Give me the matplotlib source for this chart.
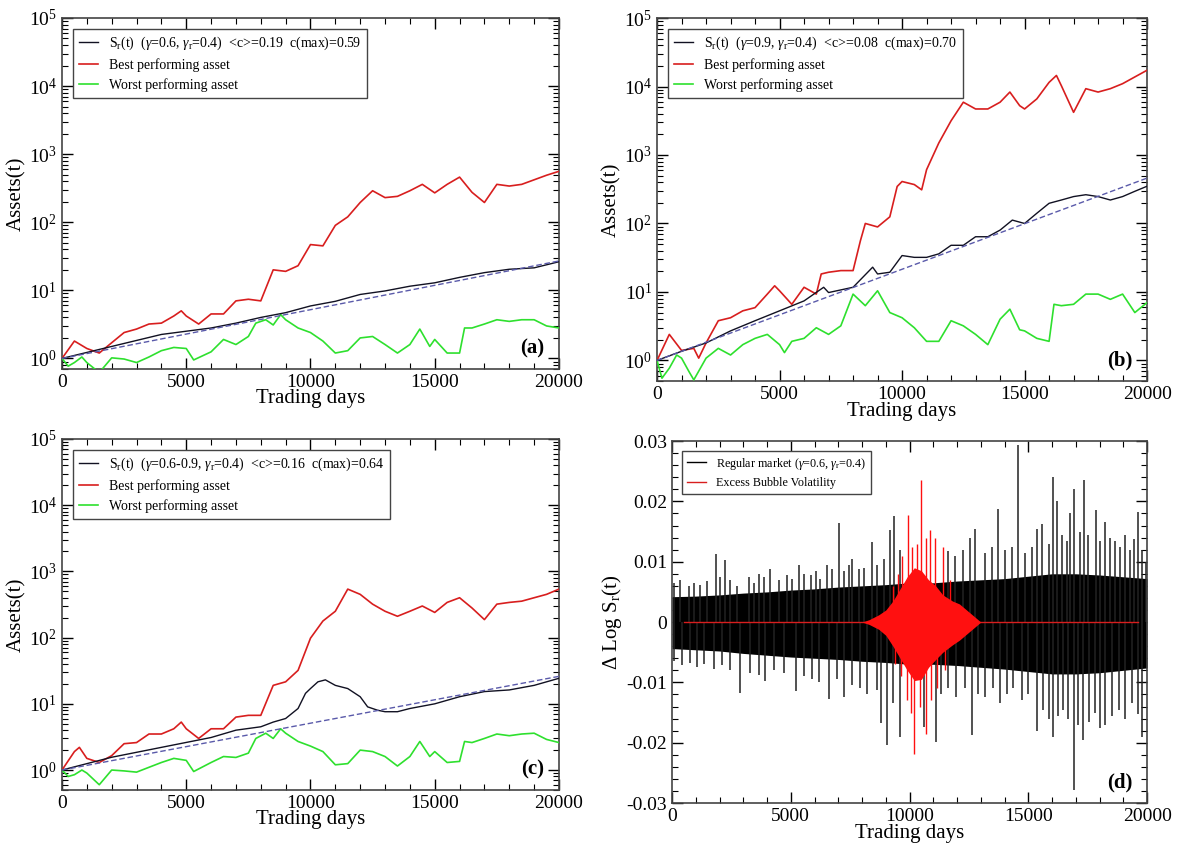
import matplotlib.pyplot as plt
from matplotlib.ticker import MultipleLocator, LogLocator, NullFormatter, FuncFormatter

plt.rcParams['font.family'] = 'Liberation Serif'
plt.rcParams['mathtext.fontset'] = 'custom'
plt.rcParams['mathtext.rm'] = 'Liberation Serif'
plt.rcParams['mathtext.it'] = 'Liberation Serif:italic'
plt.rcParams['mathtext.bf'] = 'Liberation Serif:bold'

RED = '#d81e1e'
GREEN = '#2ee02e'
FIT = '#5a5aaa'

# ---- panel (a) ----
days_red_a = [0, 500, 1000, 1500, 2000, 2500, 3000, 3500, 4000, 4500, 4800, 5000, 5500, 6000, 6500,
              7000, 7500, 8000, 8500, 9000, 9500, 10000, 10500, 11000, 11500, 12000, 12500, 13000,
              13500, 14000, 14500, 15000, 15500, 16000, 16500, 17000, 17500, 18000, 18500, 19000,
              19500, 20000]
red_a = [1.0, 1.8, 1.4, 1.2, 1.7, 2.4, 2.7, 3.2, 3.3, 4.2, 5.0, 4.2, 3.2, 4.5, 4.5,
         7.0, 7.4, 7.0, 20, 19, 23, 47, 45, 90, 120, 195, 290, 230,
         240, 290, 360, 270, 360, 460, 275, 195, 360, 340, 360, 420,
         490, 560]
days_black_a = [0, 2000, 4000, 6000, 7000, 8000, 9000, 10000, 11000, 12000, 13000, 14000, 15000,
                16000, 17000, 18000, 19000, 20000]
black_a = [1.0, 1.5, 2.25, 2.8, 3.3, 4.0, 4.7, 5.9, 6.9, 8.7, 9.8, 11.5, 12.9,
           15.5, 18.2, 20.4, 21.4, 26.3]
days_green_a = [0, 250, 500, 800, 1000, 1500, 2000, 2500, 3000, 3500, 4000, 4500, 5000, 5300, 6000,
                6500, 7000, 7500, 7800, 8200, 8500, 8800, 9000, 9500, 10000, 10500, 11000, 11500,
                12000, 12500, 13000, 13500, 14000, 14400, 14800, 15000, 15500, 16000, 16200, 16500,
                17000, 17500, 18000, 18500, 19000, 19500, 20000]
green_a = [1.0, 0.77, 0.87, 1.05, 0.87, 0.62, 1.02, 0.98, 0.87, 1.05, 1.3, 1.45, 1.4, 0.95, 1.25,
           1.9, 1.6, 2.1, 3.3, 3.7, 3.1, 4.4, 3.7, 2.8, 2.4, 1.8, 1.2, 1.3,
           2.0, 2.1, 1.6, 1.2, 1.6, 2.7, 1.5, 1.9, 1.2, 1.2, 2.8, 2.8,
           3.2, 3.7, 3.5, 3.7, 3.7, 3.0, 2.8]
fit_days = [0, 20000]
fit_a = [1.0, 27.0]

# ---- panel (b) ----
days_red_b = [0, 500, 1000, 1500, 1700, 2000, 2500, 3000, 3500, 4000, 4500, 4800, 5000, 5500, 6000,
              6500, 6700, 7000, 7500, 8000, 8300, 8500, 9000, 9500, 9800, 10000, 10500, 10800,
              11000, 11500, 12000, 12500, 13000, 13500, 14000, 14400, 14800, 15000, 15500, 16000,
              16300, 16500, 17000, 17500, 18000, 18500, 19000, 19500, 20000]
red_b = [1.0, 2.4, 1.4, 1.5, 1.08, 1.8, 3.8, 4.2, 5.3, 5.9, 9.3, 12.3, 10.4, 6.6, 11.7,
         9.3, 18.3, 19.4, 20.5, 20.5, 56, 100, 89, 125, 347, 410, 370, 310,
         610, 1500, 3160, 5900, 4700, 4700, 5900, 8300, 5250, 4700, 6600, 11500,
         14500, 10300, 4200, 9300, 8300, 9300, 11000, 13800, 17300]
days_black_b = [0, 1000, 2000, 3000, 4000, 5000, 6000, 6800, 7000, 8000, 8800, 9000, 9500, 10000,
                10500, 11000, 11500, 12000, 12500, 13000, 13500, 14000, 14500, 15000, 15500, 16000,
                16500, 17000, 17500, 18000, 18500, 19000, 19500, 20000]
black_b = [1.0, 1.36, 1.8, 2.7, 3.8, 5.3, 7.4, 11.7, 9.8, 11.7, 23, 18.3, 19.4, 34,
           32, 32, 36, 48, 48, 64, 64, 80, 112, 100, 141, 197,
           220, 247, 263, 247, 220, 247, 295, 350]
days_green_b = [0, 200, 500, 800, 1000, 1300, 1500, 2000, 2500, 3000, 3500, 4000, 4500, 5000, 5200,
                5500, 6000, 6500, 7000, 7500, 8000, 8500, 9000, 9500, 10000, 10500, 11000, 11500,
                12000, 12500, 13000, 13500, 14000, 14400, 14800, 15000, 15500, 16000, 16200, 16500,
                17000, 17500, 18000, 18500, 19000, 19500, 20000]
green_b = [1.0, 0.55, 0.77, 1.2, 1.08, 0.69, 0.52, 1.08, 1.5, 1.2, 1.7, 2.1, 2.4, 1.7, 1.3,
           1.9, 2.1, 3.0, 2.4, 3.2, 9.3, 6.3, 10.4, 5.0, 4.2, 3.0, 1.9, 1.9,
           3.8, 3.2, 2.4, 1.7, 4.0, 5.6, 2.8, 2.7, 2.1, 1.9, 6.6, 6.3,
           6.6, 9.3, 9.3, 7.8, 9.3, 5.0, 7.0]
fit_b = [1.0, 460.0]

# ---- panel (c) ----
days_red_c = [0, 500, 700, 1000, 1500, 2000, 2500, 3000, 3500, 4000, 4500, 4800, 5000, 5500, 6000,
              6500, 7000, 7500, 8000, 8500, 9000, 9500, 10000, 10500, 11000, 11500, 12000, 12500,
              13000, 13500, 14000, 14500, 15000, 15500, 16000, 16500, 17000, 17500, 18000, 18500,
              19000, 19500, 20000]
red_c = [1.0, 1.9, 2.2, 1.5, 1.3, 1.65, 2.5, 2.6, 3.5, 3.5, 4.2, 5.3, 4.2, 3.0, 4.2,
         4.2, 6.3, 6.7, 6.7, 19, 21.5, 32, 98, 178, 250, 540, 450, 320,
         250, 210, 250, 300, 240, 340, 400, 280, 187, 320, 340, 355,
         400, 450, 540]
days_black_c = [0, 2000, 4000, 6000, 7000, 8000, 8500, 9000, 9500, 9800, 10000, 10300, 10600, 11000,
                11500, 12000, 12300, 12700, 13000, 13500, 14000, 15000, 16000, 17000, 18000, 19000,
                20000]
black_c = [1.0, 1.56, 2.2, 3.1, 4.0, 4.5, 5.3, 6.0, 8.5, 14.4, 17, 21.5, 23, 19,
           17, 12.8, 9.0, 8.0, 7.6, 7.6, 8.5, 10, 12.8, 15.3, 16.2, 19,
           24.3]
days_green_c = [0, 250, 500, 800, 1000, 1500, 2000, 2500, 3000, 3500, 4000, 4500, 5000, 5300, 6000,
                6500, 7000, 7500, 7800, 8200, 8500, 8800, 9000, 9500, 10000, 10500, 11000, 11500,
                12000, 12500, 13000, 13500, 14000, 14400, 14800, 15000, 15500, 16000, 16200, 16500,
                17000, 17500, 18000, 18500, 19000, 19500, 20000]
green_c = [1.0, 0.8, 0.85, 1.0, 0.9, 0.6, 1.0, 0.97, 0.93, 1.1, 1.3, 1.5, 1.4, 0.95, 1.3,
           1.6, 1.55, 1.8, 3.0, 3.6, 3.0, 4.2, 3.6, 2.7, 2.3, 1.9, 1.2, 1.25,
           2.0, 1.9, 1.6, 1.15, 1.6, 2.7, 1.6, 1.9, 1.3, 1.35, 2.7, 2.6,
           3.0, 3.5, 3.3, 3.5, 3.6, 2.9, 2.6]
fit_c = [1.0, 26.0]

# ---- panel (d) ----
days_core_d = [0, 1000, 2000, 3000, 4000, 5000, 6000, 7000, 8000, 9000, 10000, 11000, 12000, 13000,
               14000, 15000, 16000, 17000, 18000, 19000, 20000]
core_hi_d = [0.0042, 0.0043, 0.0045, 0.0048, 0.0050, 0.0053, 0.0055, 0.0058, 0.0060, 0.0062, 0.0065,
             0.0065, 0.0068, 0.0070, 0.0072, 0.0076, 0.0080, 0.0080, 0.0078, 0.0075, 0.0072]
core_lo_d = [-0.0044, -0.0046, -0.0048, -0.0052, -0.0055, -0.0058, -0.0060, -0.0062, -0.0065, -0.0067,
             -0.0070, -0.0070, -0.0072, -0.0075, -0.0078, -0.0082, -0.0086, -0.0086, -0.0084, -0.0080,
             -0.0076]
up_days_d = [70, 350, 700, 910, 1190, 1470, 1830, 2040, 2250, 2460, 2740, 3230, 3440, 3650, 3860, 4140,
             4490, 4840, 5050, 5340, 5550, 5830, 6040, 6250, 6530, 6740, 7020, 7230, 7440, 7580, 7860,
             8070, 8420, 8630, 8910, 9190, 9330, 9600, 11620, 11900, 12250, 12540, 12750, 13170,
             13450, 13730, 14010, 14300, 14580, 14860, 15140, 15350, 15560, 15850, 16030, 16200,
             16410, 16620, 16760, 16940, 17180, 17350, 17530, 17840, 18030, 18240, 18450, 18660,
             18870, 19080, 19290, 19430, 19600, 19800, 19950]
up_vals_d = [0.0065, 0.0070, 0.0060, 0.0065, 0.0062, 0.0068, 0.0113, 0.0075, 0.0103, 0.0070, 0.0060,
             0.0075, 0.0065, 0.0080, 0.0075, 0.0088, 0.0070, 0.0078, 0.0072, 0.0095, 0.0080, 0.0078,
             0.0085, 0.0072, 0.0095, 0.0088, 0.0164, 0.0085, 0.0095, 0.0105, 0.0088, 0.0090, 0.0133,
             0.0095, 0.0105, 0.0152, 0.0175, 0.0120, 0.0118, 0.0110, 0.0120, 0.0140, 0.0155, 0.0115,
             0.0125, 0.0188, 0.0120, 0.0125, 0.0294, 0.0115, 0.0125, 0.0155, 0.0163, 0.0130, 0.0240,
             0.0200, 0.0145, 0.0135, 0.0180, 0.0220, 0.0150, 0.0235, 0.0145, 0.0185, 0.0135, 0.0166,
             0.0140, 0.0135, 0.0125, 0.0145, 0.0120, 0.0138, 0.0182, 0.0120, 0.0100]
lo_days_d = [70, 420, 770, 1050, 1330, 1750, 2110, 2460, 2880, 3300, 3650, 3930, 4280, 4700, 5200,
             5550, 5900, 6180, 6600, 6950, 7230, 7580, 7930, 8210, 8630, 8800, 9050, 9300, 9600,
             10600, 11100, 11340, 11620, 11970, 12330, 12640, 12890, 13170, 13520, 13800, 14090,
             14370, 14720, 15000, 15350, 15630, 15850, 16060, 16270, 16480, 16690, 16940, 17110,
             17320, 17560, 17810, 18030, 18240, 18520, 18800, 19080, 19360, 19600, 19800]
lo_vals_d = [-0.0065, -0.0072, -0.0068, -0.0075, -0.0070, -0.0078, -0.0072, -0.0080, -0.0117, -0.0085,
             -0.0088, -0.0098, -0.0080, -0.0085, -0.0114, -0.0090, -0.0095, -0.0100, -0.0128, -0.0095,
             -0.0125, -0.0105, -0.0110, -0.0120, -0.0112, -0.0168, -0.0204, -0.0135, -0.0190,
             -0.0174, -0.0199, -0.0120, -0.0110, -0.0125, -0.0110, -0.0188, -0.0120, -0.0125, -0.0110,
             -0.0135, -0.0120, -0.0110, -0.0130, -0.0120, -0.0180, -0.0145, -0.0160, -0.0190, -0.0155,
             -0.0145, -0.0160, -0.0279, -0.0170, -0.0195, -0.0165, -0.0150, -0.0175, -0.0170, -0.0155,
             -0.0145, -0.0160, -0.0135, -0.0152, -0.0190]
bubble_days_d = [8000, 8300, 8700, 9000, 9300, 9600, 9900, 10200, 10500, 10800, 11100, 11400, 11800,
                 12100, 12400, 12700, 13000]
bubble_hi_d = [0, 0.0004, 0.0012, 0.0020, 0.0035, 0.0055, 0.0075, 0.0090, 0.0085, 0.0070, 0.0060,
               0.0045, 0.0035, 0.0030, 0.0020, 0.0010, 0]
bubble_lo_d = [0, -0.0004, -0.0012, -0.0022, -0.0040, -0.0060, -0.0080, -0.0097, -0.0095, -0.0075,
               -0.0062, -0.0050, -0.0038, -0.0030, -0.0020, -0.0010, 0]
bubble_spike_days = [9300, 9500, 9700, 9930, 10100, 10300, 10500, 10700, 10880, 11080, 11420, 11700,
                     9400, 9650, 9900, 10050, 10200, 10450, 10680, 10900, 11150, 11500]
bubble_spike_vals = [0.0060, 0.0080, 0.0110, 0.0177, 0.0125, 0.0130, 0.0235, 0.0140, 0.0152, 0.0140,
                     0.0124, 0.0070, -0.0070, -0.0090, -0.0130, -0.0150, -0.0218, -0.0140, -0.0185,
                     -0.0130, -0.0110, -0.0080]
zero_line_days = [500, 19600]

fig = plt.figure(figsize=(11.99, 8.43), dpi=100)
ax_a = fig.add_axes([0.0517, 0.5623, 0.4145, 0.4164])
ax_b = fig.add_axes([0.548, 0.548, 0.4087, 0.4306])
ax_c = fig.add_axes([0.0517, 0.0629, 0.4145, 0.4164])
ax_d = fig.add_axes([0.5605, 0.0474, 0.3962, 0.4294])


def style_axes(ax, letter):
    ax.set_xlim(0, 20000)
    ax.xaxis.set_major_locator(MultipleLocator(5000))
    ax.xaxis.set_minor_locator(MultipleLocator(1000))
    ax.tick_params(which='both', direction='in', top=True, right=True, labelsize=14)
    ax.tick_params(which='major', length=8, width=1)
    ax.tick_params(which='minor', length=4, width=0.8)
    ax.set_xlabel('Trading days', fontsize=15, labelpad=-1)
    for s in ax.spines.values():
        s.set_linewidth(1.2)
        s.set_color('#444444')
    ax.text(0.97, 0.03, letter, transform=ax.transAxes, ha='right', va='bottom',
            fontsize=15, fontweight='bold')


def asset_panel(ax, ymin, dr, r, db, b, dg, g, fit, label, letter):
    ax.plot(dr, r, color=RED, lw=1.2, label='Best performing asset', zorder=3)
    ax.plot(dg, g, color=GREEN, lw=1.2, label='Worst performing asset', zorder=3)
    ax.plot(db, b, color='#111122', lw=1.0, label=label, zorder=4)
    ax.plot(fit_days, fit, color=FIT, lw=1.0, ls=(0, (4, 2)), zorder=5)
    ax.set_yscale('log')
    ax.set_ylim(ymin, 1e5)
    ax.yaxis.set_major_locator(LogLocator(base=10, numticks=10))
    ax.yaxis.set_minor_locator(LogLocator(base=10, subs=range(2, 10), numticks=20))
    ax.yaxis.set_minor_formatter(NullFormatter())
    ax.set_ylabel('Assets(t)', fontsize=15, labelpad=2)
    style_axes(ax, letter)
    h, l = ax.get_legend_handles_labels()
    order = [2, 0, 1]
    leg = ax.legend([h[i] for i in order], [l[i] for i in order], loc='upper left', fontsize=10,
                    fancybox=False, edgecolor='#444444', handlelength=1.4, borderaxespad=0.8,
                    labelspacing=0.45, framealpha=1)
    leg.get_frame().set_linewidth(1.0)


asset_panel(ax_a, 0.7, days_red_a, red_a, days_black_a, black_a, days_green_a, green_a, fit_a,
            r'S$_\mathregular{r}$(t)  ($\gamma$=0.6, $\gamma_\mathregular{r}$=0.4)  <c>=0.19  c(max)=0.59', '(a)')
asset_panel(ax_b, 0.5, days_red_b, red_b, days_black_b, black_b, days_green_b, green_b, fit_b,
            r'S$_\mathregular{r}$(t)  ($\gamma$=0.9, $\gamma_\mathregular{r}$=0.4)  <c>=0.08  c(max)=0.70', '(b)')
asset_panel(ax_c, 0.5, days_red_c, red_c, days_black_c, black_c, days_green_c, green_c, fit_c,
            r'S$_\mathregular{r}$(t)  ($\gamma$=0.6-0.9, $\gamma_\mathregular{r}$=0.4)  <c>=0.16  c(max)=0.64', '(c)')

# panel (d)
ax_d.fill_between(days_core_d, core_lo_d, core_hi_d, color='black', lw=0, zorder=2)
ax_d.vlines(up_days_d, 0, up_vals_d, color='#222222', lw=1.1, zorder=2)
ax_d.vlines(lo_days_d, 0, lo_vals_d, color='#222222', lw=1.1, zorder=2)
ax_d.plot([], [], color='black', lw=1.0, label=r'Regular market ($\gamma$=0.6, $\gamma_\mathregular{r}$=0.4)')
ax_d.plot(zero_line_days, [0, 0], color=RED, lw=1.0, zorder=3, label='Excess Bubble Volatility')
ax_d.fill_between(bubble_days_d, bubble_lo_d, bubble_hi_d, color='#ff1010', lw=0, zorder=3)
ax_d.vlines(bubble_spike_days, 0, bubble_spike_vals, color='#ff1010', lw=1.0, zorder=3)
ax_d.set_ylim(-0.03, 0.03)
ax_d.yaxis.set_major_locator(MultipleLocator(0.01))
ax_d.yaxis.set_minor_locator(MultipleLocator(0.002))
ax_d.yaxis.set_major_formatter(FuncFormatter(lambda v, p: '0' if abs(v) < 1e-9 else f'{v:.2f}'))
ax_d.set_ylabel(r'$\Delta$ Log S$_\mathregular{r}$(t)', fontsize=15, labelpad=2)
style_axes(ax_d, '(d)')
leg = ax_d.legend(loc='upper left', fontsize=8.7, fancybox=False, edgecolor='#444444', handlelength=1.6,
                  borderaxespad=0.8, labelspacing=0.45, framealpha=1)
leg.get_frame().set_linewidth(1.0)

fig.savefig('out.png', dpi=100)
